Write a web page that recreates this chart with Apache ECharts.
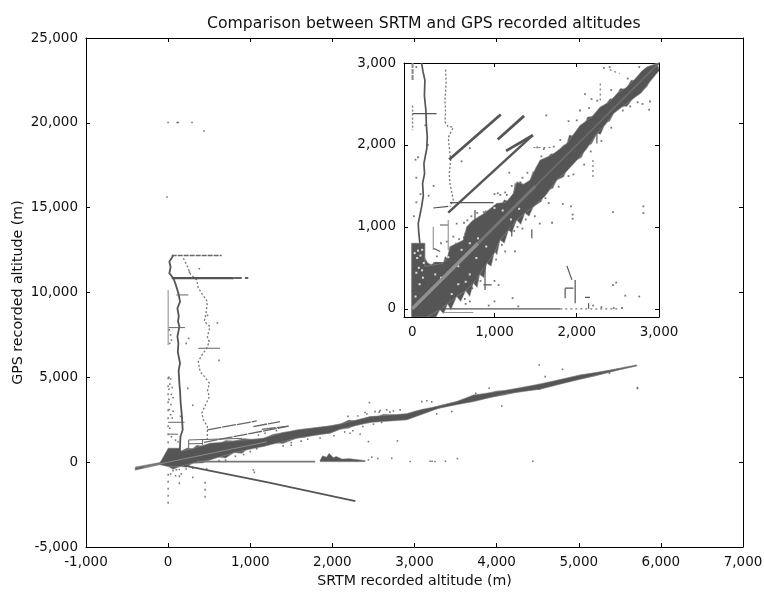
<!DOCTYPE html>
<html><head><meta charset="utf-8">
<style>html,body{margin:0;padding:0;background:#fff}#c{width:764px;height:594px;filter:blur(0.35px)}</style>
<script src="https://cdn.jsdelivr.net/npm/echarts@6/dist/echarts.min.js"></script>
</head><body><div id="c"></div>
<script>
// ---- text ----
const chartTitle = 'Comparison between SRTM and GPS recorded altitudes';
const xName = 'SRTM recorded altitude (m)';
const yName = 'GPS recorded altitude (m)';
const insetTicks = [0, 1000, 2000, 3000];

// ---- main panel: filled envelopes [srtm, gps] ----
const mainCore = [[-400,-340],[-100,-30],[0,820],[145,820],[150,640],[300,800],[510,1115],[800,1250],[1160,1410],[1400,1750],[1566,1902],[1972,2140],[2094,2255],[2459,2686],[2700,2780],[2906,2860],[3100,3120],[3300,3320],[3500,3560],[3718,3963],[4100,4230],[4530,4612],[5017,5142],[5400,5440],[5707,5731],[5707,5672],[5400,5330],[5017,4886],[4530,4297],[4100,4010],[3718,3570],[3300,3180],[2906,2490],[2459,2334],[2094,1940],[1972,1706],[1566,1411],[1160,920],[800,560],[510,135],[300,-60],[145,-260],[0,-260],[-100,-150],[-400,-440]];
const mainBand = [[-400,-280],[-100,-20],[-10,400],[0,820],[145,820],[150,640],[230,830],[300,800],[350,1000],[420,950],[510,1115],[620,1080],[700,1280],[800,1250],[920,1390],[1040,1340],[1160,1410],[1280,1640],[1400,1750],[1480,1800],[1566,1902],[1700,1980],[1820,2050],[1972,2140],[2094,2255],[2200,2480],[2290,2440],[2459,2686],[2560,2700],[2620,2830],[2780,2790],[2906,2860],[3000,3000],[3100,3120],[3200,3160],[3300,3320],[3500,3560],[3600,3620],[3718,3963],[3850,3990],[4000,4200],[4100,4230],[4300,4380],[4530,4612],[4700,4780],[5017,5142],[5200,5260],[5400,5440],[5560,5600],[5707,5731],[5707,5672],[5500,5470],[5400,5330],[5200,5080],[5017,4886],[4780,4640],[4530,4297],[4300,4200],[4100,3960],[3900,3800],[3718,3570],[3500,3420],[3300,3180],[3100,2980],[2906,2600],[2800,2660],[2680,2440],[2580,2500],[2459,2334],[2300,2230],[2200,2000],[2094,1940],[1972,1706],[1800,1660],[1660,1460],[1566,1411],[1400,1100],[1300,1130],[1160,920],[1000,900],[900,520],[800,560],[700,240],[600,300],[510,135],[420,-50],[300,-60],[220,-300],[145,-260],[60,-420],[0,-260],[-100,-130],[-400,-480]];
const mainBlob2000 = [[1850,120],[1880,380],[1930,300],[1960,530],[2010,280],[2050,340],[2120,180],[2200,210],[2400,100],[2400,20],[1850,20]];
// ---- main panel: polylines ----
const mainWiggleA = [[64,12213],[40,12000],[15,11820],[30,11500],[15,11133],[64,10838],[90,10500],[125,9954],[145,9463],[113,9070],[130,8600],[120,8300],[137,7990],[113,7400],[125,7000],[118,6500],[145,5830],[128,5400],[137,4650],[145,4200],[153,3470],[168,2700],[177,1900],[150,1500],[145,920],[137,330]];
const mainWiggleB = [[186,12017],[226,11624],[270,11100],[348,10740],[365,10300],[409,9954],[478,9463],[462,8776],[440,8300],[510,7990],[478,7400],[500,7100],[470,6714],[410,6300],[368,5928],[389,5339],[450,5000],[502,4652],[480,4200],[502,3866],[409,2884],[430,2500],[478,2098],[478,1313]];
const mainTop = [[43,12180],[652,12180]];
const main10850 = [[43,10850],[800,10850]];
const main10850Tail = [[800,10850],[977,10850]];
const mainShort = [[[100,9856],[246,9856]],[[3,7930],[206,7930]],[[368,6714],[632,6714]],[[0,2350],[200,2350]],[[0,1650],[120,1650]],[[250,1310],[900,1400]],[[250,1080],[420,1100]],[[250,1310],[250,800]],[[420,1310],[420,1000]]];
const mainLeftEdge = [[0,10150],[0,6900]];
const mainLeftDots = [[0,5000],[0,1000]];
const mainBelow = [[[0,-2450],[0,-400]],[[137,-1300],[137,-400]],[[450,-2100],[450,-1050]]];
const mainZero = [[348,30],[1790,30]];
const mainNegative = [[200,-200],[1200,-1180],[2280,-2300]];
const mainRidges = [[[478,1900],[1079,2432]],[[1038,2098],[1363,2393]],[[1141,1928],[1466,2119]],[[438,1173],[1466,2119]]];
const mainDots = [[-1,20020],[110,20020],[122,20020],[291,20020],[437,19520],[-13,15630],[2451,3512],[2398,2923],[2520,2981],[2581,3040],[2662,3080],[2743,3021],[2825,3080],[3089,3570],[3150,3620],[3210,3560],[3271,2844],[3454,2981],[3746,4062],[3909,4356],[4063,3315],[4518,5731],[4802,5476],[4591,5044],[4518,4317],[4985,5004],[5374,5240],[5715,4396],[5715,4340],[2439,1214],[2792,1253],[2338,1646],[2216,1705],[2723,232],[2439,134],[2480,291],[2553,212],[2947,35],[3190,55],[3251,35],[3215,55],[3377,55],[3523,212],[4441,55],[2134,134],[2297,94],[1038,-455],[1050,-600],[300,-900],[620,6000],[250,7300],[600,8200],[480,8650],[260,11200],[380,11400],[220,7000],[240,4350],[150,2700],[300,3350],
  [10,5000],[30,4900],[20,4600],[50,4400],[10,4300],[40,4000],[60,3800],[10,3700],[35,3400],[15,3100],[60,3000],[30,2800],[50,2600],[20,2000],[40,1500],[90,1300],[15,7800],[30,7500],[40,7200],[20,7000],[120,1200],
  [60,-500],[100,-450],[160,-700],[220,-400],[300,-350],[470,-400],[90,-800],[30,-700],[1500,1150],[1620,1240],[1500,1000],[1100,1600],[1180,1700],[1320,1860],[1080,800],[1000,620],[820,350],[920,450],[700,120],[620,100],[1400,960],[1700,1350],[1850,1420],[2020,1560],[2150,1780],[2250,1850],[2370,2100],[2500,2240],[2600,2340],[2190,2700],[2310,2720],[2420,2840],[2570,2950],[2700,2950]];

// ---- inset panel: filled envelopes ----
const insetCore = [[-8,800],[154,800],[154,516],[378,556],[420,600],[459,759],[540,800],[621,840],[660,1000],[743,1084],[880,1170],[1027,1287],[1140,1300],[1230,1409],[1271,1551],[1350,1520],[1433,1571],[1500,1720],[1555,1815],[1700,1880],[1880,2018],[1960,2130],[2042,2241],[2180,2340],[2286,2464],[2400,2530],[2489,2627],[2600,2700],[2692,2789],[2790,2900],[2854,2952],[2976,2990],[3004,2911],[2890,2770],[2773,2627],[2600,2500],[2448,2383],[2350,2250],[2245,2140],[2120,1950],[2002,1815],[1880,1680],[1758,1571],[1620,1380],[1474,1246],[1370,1170],[1271,1084],[1170,960],[1068,840],[1000,680],[905,556],[820,420],[743,313],[650,220],[540,150],[430,60],[337,-12],[250,-60],[175,-100],[-8,-100]];
const insetBand = [[-8,800],[154,800],[154,620],[190,560],[230,540],[290,570],[378,556],[400,640],[430,610],[459,759],[490,700],[530,810],[575,760],[621,840],[640,930],[675,900],[700,1040],[743,1084],[775,1030],[810,1130],[860,1090],[890,1200],[960,1170],[1027,1287],[1060,1240],[1120,1330],[1180,1310],[1230,1409],[1250,1540],[1280,1480],[1310,1560],[1360,1500],[1433,1571],[1470,1680],[1500,1640],[1555,1815],[1620,1800],[1680,1890],[1760,1900],[1830,1990],[1880,2018],[1910,2120],[1960,2110],[2042,2241],[2090,2230],[2130,2340],[2200,2350],[2286,2464],[2340,2470],[2400,2560],[2460,2570],[2530,2690],[2600,2680],[2660,2790],[2720,2790],[2790,2900],[2854,2952],[2976,3000],[3004,2911],[2950,2860],[2890,2800],[2860,2720],[2773,2627],[2700,2590],[2620,2480],[2530,2460],[2448,2383],[2400,2290],[2350,2270],[2290,2130],[2245,2140],[2180,2010],[2120,1990],[2060,1850],[2002,1815],[1950,1760],[1890,1720],[1840,1610],[1758,1571],[1710,1470],[1620,1440],[1570,1310],[1474,1246],[1420,1130],[1370,1170],[1320,1030],[1271,1084],[1210,930],[1170,960],[1120,800],[1068,840],[1030,660],[1000,700],[960,520],[905,556],[870,380],[820,420],[790,260],[743,313],[700,150],[650,220],[590,90],[540,150],[470,-10],[430,60],[380,-60],[337,-12],[290,-100],[175,-100],[-8,-100]];
// ---- inset panel: polylines ----
const insetCenterLow = [[0,0],[400,400],[800,800]];
const insetCenterMid = [[800,800],[1200,1200],[1500,1500]];
const insetCenterThin = [[1500,1500],[2300,2300],[3000,3000]];
const insetWiggleA = [[114,3000],[130,2900],[154,2789],[148,2600],[166,2424],[172,2250],[183,2099],[176,1950],[142,1774],[150,1650],[126,1531],[135,1380],[114,1246],[95,1150],[73,1043],[80,920],[93,800]];
const insetWiggleB = [[406,2919],[412,2750],[398,2546],[405,2400],[398,2282],[430,2230],[499,2213],[438,2091],[467,1815],[450,1650],[459,1531],[485,1400],[499,1328],[459,1246]];
const insetLeftEdge = [[4,3000],[4,2780]];
const insetLeftDots = [[4,2480],[4,2180]];
const insetRidges = [[[450,1823],[1076,2371]],[[1039,2067],[1360,2355]],[[1141,1928],[1466,2119]],[[438,1173],[1466,2119]]];
const insetShort = [[[4,2383],[296,2383]],[[459,1295],[987,1295]],[[256,1230],[438,1250]],[[337,1023],[438,1023]],[[256,560],[420,560]],[[256,740],[340,700]],[[865,292],[966,292]],[[1210,1043],[1210,881]],[[885,637],[885,231]],[[763,1206],[763,1043]],[[1454,970],[1454,860]],[[2245,2140],[2245,2018]],[[1880,524],[1941,353]],[[1981,353],[1981,69]],[[1859,252],[1859,130]],[[1859,252],[1960,252]],[[2100,140],[2160,140]],[[2144,69],[2144,0]],[[256,0],[1800,0]]];
const insetFaint = [[[438,1084],[438,719]],[[256,1000],[256,719]],[[378,-45],[743,-45]]];
const insetDotted = [[[1800,0],[2530,0]],[[1474,1969],[1717,1969]],[[2286,2749],[2286,2505]],[[2197,1815],[2197,1571]],[[2400,2920],[2520,2870]]];
const insetDots = [[40,1820],[70,1850],[50,1600],[20,1130],[50,1300],[100,1400],[190,2000],[160,2240],[200,1380],[50,2950],[600,1800],[700,1960],[1180,1660],[1270,1230],[1040,1410],[1070,1390],[1150,1390],[1660,1290],[1830,1280],[1930,1250],[1950,1150],[1950,1100],[2440,1180],[2810,1250],[2810,1170],[2300,2390],[2600,2480],[2800,2500],[2890,2530],[2100,2620],[2180,2560],[1900,2290],[2040,2420],[1520,1970],[1600,1950],[1280,1000],[1300,1240],[1470,1330],[2440,290],[2480,320],[2590,160],[2760,150],[1630,2360],[1000,340],[1050,290],[780,360],[1000,90],[1220,130],[590,380],[640,120],[930,40],[1290,30],[2200,40],[2300,20],[2450,10],[2550,10],[2400,2950],[2330,2940],[2470,3020],[2880,2430],[1700,1050],[1550,1040],[1250,700],[1175,1010],[1080,1150],[870,1180],[1000,1400],[790,1170],[260,1500],[630,1050],[540,1040],
  [470,420],[510,380],[730,250],[700,90],[830,340],[650,60],[880,500],[1020,600],[1130,700],[1090,780],[1240,950],[1340,980],[1490,1130],[1380,1090],[1620,1350],[1780,1490],[1900,1620],[1960,1640],[2090,1760],[2170,1920],[2300,2050],[2420,2210],[2560,2420],[2650,2470],[2740,2520],[1130,1420],[1210,1500],[1340,1600],[1400,1660],[1570,1860],[1720,1980],[1800,2060],[2000,2300],[2150,2450],[2250,2540],[2420,2670],[2620,2810],[2760,2950],[630,870],[500,880],[570,850],[720,1130],[670,1080],[420,820],[350,800],[300,640]];
const insetHoles = [[60,620],[100,650],[80,500],[120,720],[50,440],[130,380],[90,300],[40,150],[140,560],[70,710],[30,680],[120,470],[280,420],[350,380],[440,630],[560,520],[600,720],[700,800],[800,860],[780,620],[900,760],[480,180],[560,300],[650,330],[700,420],[1000,1230],[1100,1200],[1200,1090],[1300,1220]];

// ---- styling helpers ----
const INK = '#555555';
const series = [];
function poly(pts, axis, z) {
  series.push({ type:'custom', xAxisIndex:axis, yAxisIndex:axis, z:z||2, clip:true, silent:true,
    data:[[0,0]],
    renderItem:(p, api) => ({ type:'polygon',
      shape:{ points: pts.map(q => api.coord(q)) },
      style:{ fill:INK, stroke:'#999999', lineWidth:0.5 } }) });
}
function line(pts, axis, width, color, dash, z) {
  series.push({ type:'line', xAxisIndex:axis, yAxisIndex:axis, data:pts, symbol:'none', silent:true,
    clip:true, z:z||3, animation:false,
    lineStyle:{ width:width, color:color||INK, type:dash||'solid', cap:'butt', join:'miter' } });
}
function dots(pts, axis, size, color, z) {
  series.push({ type:'scatter', xAxisIndex:axis, yAxisIndex:axis, data:pts, symbol:'rect', symbolSize:size,
    silent:true, clip:true, z:z||4, animation:false, itemStyle:{ color:color||INK } });
}
// main
poly(mainBand, 0); poly(mainCore, 0); poly(mainBlob2000, 0);
line(mainWiggleA, 0, 1.8); line(mainWiggleB, 0, 1.3, '#777', [2,2]);
line(mainTop, 0, 1.5, '#666', [5,1]); line(main10850, 0, 2.2); line(main10850Tail, 0, 2, '#666', [8,3]);
mainShort.forEach(s => line(s, 0, 1, '#666'));
line(mainLeftEdge, 0, 1, '#888'); line(mainLeftDots, 0, 1.4, '#777', [2,6]);
mainBelow.forEach(s => line(s, 0, 1.4, '#777', [2,5]));
line(mainZero, 0, 1.6, '#777'); line(mainNegative, 0, 1.7);
mainRidges.forEach(s => line(s, 0, 1.3, '#666', [14,1]));
dots(mainDots, 0, 1.6);
line([[-300,-300],[1200,1200]], 0, 1, '#8a8a8a');
// inset
poly(insetBand, 2); poly(insetCore, 2);
dots(insetHoles, 2, 2, '#ffffff', 5);
line(insetCenterLow, 2, 3.5, '#909090', null, 6);
line(insetCenterMid, 2, 3, '#757575', null, 6);
line(insetCenterThin, 2, 2, '#696969', null, 6);
line(insetWiggleA, 2, 1.7);
line(insetWiggleB, 2, 1.3, '#777', [2,2]);
line(insetLeftEdge, 2, 2, '#888', [5,1]); line(insetLeftDots, 2, 1.5, '#888', [2,2]);
insetRidges.forEach((s,i) => line(s, 2, i === 3 ? 2.4 : 2.8));
insetShort.forEach(s => line(s, 2, 1.2));
insetFaint.forEach(s => line(s, 2, 1.2, '#999'));
insetDotted.forEach(s => line(s, 2, 1.2, '#777', [2,3]));
dots(insetDots, 2, 1.8);

const fmt = v => Math.round(v).toLocaleString('en-US');
const axLine = { show:true, onZero:false, lineStyle:{ color:'#000', width:1 } };
const FONT = 'DejaVu Sans';
function ax(gridIndex, min, max, interval, pos, name, custom, shown) {
  const labels = { show:shown, formatter:fmt, color:'#111', fontFamily:FONT, fontSize:13.5, margin:8, showMinLabel:true, showMaxLabel:true };
  const ticks = { show:true, inside:true, length:4, lineStyle:{ color:'#000', width:1 } };
  if (custom) { labels.customValues = custom; ticks.customValues = custom; }
  const a = { type:'value', gridIndex, min, max, position:pos, axisLine:axLine, axisTick:ticks, axisLabel:labels, splitLine:{show:false} };
  if (interval) a.interval = interval;
  if (name) { a.name = name; a.nameLocation = 'middle'; a.nameMoveOverlap = false;
    a.nameTextStyle = { color:'#111', fontFamily:FONT, fontSize:14.2 }; }
  return a;
}
const xAxes = [
  Object.assign(ax(0,-1000,7000,1000,'bottom',xName,null,true),{nameGap:27}),
  ax(0,-1000,7000,1000,'top',null,null,false),
  ax(1,-100,3000,null,'bottom',null,insetTicks,true),
  ax(1,-100,3000,null,'top',null,insetTicks,false)
];
const yAxes = [
  Object.assign(ax(0,-5000,25000,5000,'left',yName,null,true),{nameGap:61}),
  ax(0,-5000,25000,5000,'right',null,null,false),
  ax(1,-100,3000,null,'left',null,insetTicks,true),
  ax(1,-100,3000,null,'right',null,insetTicks,false)
];
const chart = echarts.init(document.getElementById('c'), null, { renderer:'canvas' });
chart.setOption({
  animation:false, backgroundColor:'#fff',
  title:{ text:chartTitle, left:202, top:11, textStyle:{ color:'#111', fontFamily:FONT, fontSize:15.7, fontWeight:'normal' } },
  grid:[ { left:86, top:38, width:657, height:509, outerBoundsMode:'none' }, { left:404, top:63, width:255, height:254, outerBoundsMode:'none' } ],
  xAxis:xAxes, yAxis:yAxes, series
});
</script></body></html>
